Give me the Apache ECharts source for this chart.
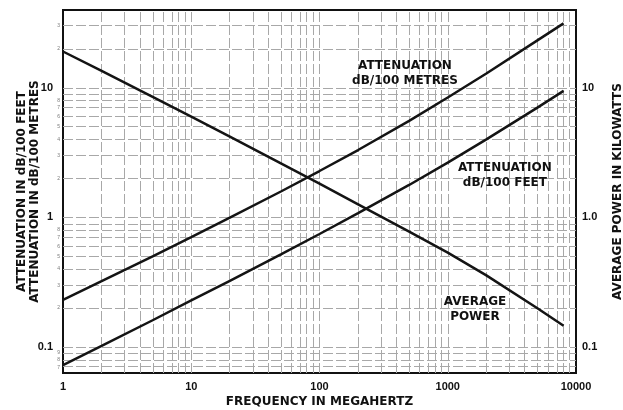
<!DOCTYPE html>
<html>
<head>
<meta charset="utf-8">
<script src="https://cdn.jsdelivr.net/npm/echarts@6/dist/echarts.min.js"></script>
<style>
html,body{margin:0;padding:0;background:#fff;}
#chart{width:623px;height:410px;}
</style>
</head>
<body>
<div id="chart"></div>
<script>
// ---- data (log-log plot) ----
const freqMHz        = [1, 2, 5, 10, 20, 50, 100, 200, 500, 1000, 2000, 5000, 8000];
const attenPer100m   = [0.231, 0.322, 0.501, 0.705, 0.995, 1.585, 2.28, 3.31, 5.56, 8.41, 12.9, 23.2, 31.4];
const attenPer100ft  = [0.0726, 0.102, 0.161, 0.229, 0.324, 0.519, 0.745, 1.08, 1.78, 2.65, 4.00, 7.03, 9.46];
const avgPowerKW     = [19.05, 13.5, 8.51, 5.98, 4.20, 2.61, 1.82, 1.26, 0.776, 0.535, 0.357, 0.1995, 0.146];

// axis tick labels
const xTickValues = [1, 10, 100, 1000, 10000];
const xTickLabels = ['1', '10', '100', '1000', '10000'];
const yLeftTickValues  = [0.1, 1, 10];
const yLeftTickLabels  = ['0.1', '1', '10'];
const yRightTickValues = [0.1, 1, 10];
const yRightTickLabels = ['0.1', '1.0', '10'];

// small minor labels on left axis
const minorLabelValues = [0.07, 0.08, 0.09, 0.2, 0.3, 0.4, 0.5, 0.6, 0.7, 0.8, 2, 3, 4, 5, 6, 7, 8, 20, 30];
const minorLabelTexts  = ['7', '8', '9', '2', '3', '4', '5', '6', '7', '8', '2', '3', '4', '5', '6', '7', '8', '2', '3'];

// graph-paper grid
const gridFreqMHz = [2,3,4,5,6,7,8,9,10,20,30,40,50,60,70,80,90,100,200,300,400,500,600,700,800,900,1000,2000,3000,4000,5000,6000,7000,8000,9000];
const gridValues  = [0.07,0.08,0.09,0.1,0.2,0.3,0.4,0.5,0.6,0.7,0.8,0.9,1,2,3,4,5,6,7,8,9,10,20,30];

// curve annotations
const annoTexts = ['ATTENUATION\ndB/100 METRES', 'ATTENUATION\ndB/100 FEET', 'AVERAGE\nPOWER'];
const annoFreq  = [464, 2790, 1630];
const annoValue = [13.0, 2.10, 0.196];

// axis ranges (decades)
const xMinLog = 0, xMaxLog = 4;
const yMinLog = -1.2, yMaxLog = 1.6;

const L = Math.log10;
const near = (a, b) => Math.abs(a - b) < 1e-6;
function labelFor(values, labels, v) {
  for (let i = 0; i < values.length; i++) if (near(L(values[i]), v)) return labels[i];
  return '';
}
const toPts = arr => freqMHz.map((f, i) => [L(f), L(arr[i])]);

const gridStyle = { color: '#a8a8a8', width: 1, type: [10, 3] };
const titleFont = { fontFamily: 'DejaVu Sans', fontWeight: 'bold', fontSize: 12, color: '#111111' };
const tickFont = { fontFamily: 'Liberation Sans', fontWeight: 'bold', fontSize: 11, color: '#111111' };
const curveStyle = { color: '#141414', width: 2.5 };

const chart = echarts.init(document.getElementById('chart'), null, { renderer: 'canvas' });
chart.setOption({
  animation: false,
  backgroundColor: '#ffffff',
  grid: { left: 63, right: 47, top: 10, bottom: 37, outerBoundsMode: 'none', containLabel: false,
          show: true, borderColor: '#111', borderWidth: 2, backgroundColor: 'transparent' },
  xAxis: {
    type: 'value', min: xMinLog, max: xMaxLog, interval: 1,
    axisLine: { show: false }, axisTick: { show: false }, splitLine: { show: false },
    axisLabel: Object.assign({ margin: 8, formatter: v => labelFor(xTickValues, xTickLabels, v) }, tickFont),
    name: 'FREQUENCY IN MEGAHERTZ', nameLocation: 'middle', nameGap: 23, nameMoveOverlap: false, nameTextStyle: titleFont
  },
  yAxis: [{
    type: 'value', min: yMinLog, max: yMaxLog, interval: 0.2, position: 'left',
    axisLine: { show: false }, axisTick: { show: false }, splitLine: { show: false },
    axisLabel: Object.assign({ margin: 10, formatter: v => labelFor(yLeftTickValues, yLeftTickLabels, v) }, tickFont),
    name: 'ATTENUATION IN dB/100 FEET\nATTENUATION IN dB/100 METRES', nameLocation: 'middle', nameGap: 22, nameMoveOverlap: false,
    nameTextStyle: Object.assign({ lineHeight: 12.5 }, titleFont)
  }, {
    type: 'value', min: yMinLog, max: yMaxLog, interval: 0.2, position: 'right',
    axisLine: { show: false }, axisTick: { show: false }, splitLine: { show: false },
    axisLabel: Object.assign({ margin: 6, formatter: v => labelFor(yRightTickValues, yRightTickLabels, v) }, tickFont),
    name: 'AVERAGE POWER IN KILOWATTS', nameLocation: 'middle', nameGap: 36, nameMoveOverlap: false, nameTextStyle: titleFont
  }],
  series: [
    {
      name: 'grid', type: 'line', data: [], silent: true, z: 1,
      markLine: {
        silent: true, symbol: ['none', 'none'], label: { show: false }, animation: false,
        lineStyle: gridStyle,
        data: gridFreqMHz.map(f => ({ xAxis: L(f) })).concat(gridValues.map(v => ({ yAxis: L(v) })))
      }
    },
    {
      name: 'minorLabels', type: 'scatter', symbolSize: 0, silent: true, z: 3, clip: false,
      data: minorLabelValues.map((v, i) => ({ value: [xMinLog, L(v)], label: { formatter: minorLabelTexts[i] } })),
      label: { show: true, position: 'left', distance: 3, fontSize: 5, fontFamily: 'Liberation Sans', color: '#555' }
    },
    { name: 'Attenuation dB/100 m', type: 'line', data: toPts(attenPer100m), showSymbol: false, symbol: 'none', lineStyle: curveStyle, z: 10 },
    { name: 'Attenuation dB/100 ft', type: 'line', data: toPts(attenPer100ft), showSymbol: false, symbol: 'none', lineStyle: curveStyle, z: 10 },
    { name: 'Average power kW', type: 'line', yAxisIndex: 1, data: toPts(avgPowerKW), showSymbol: false, symbol: 'none', lineStyle: curveStyle, z: 10 },
    {
      name: 'annotations', type: 'scatter', symbolSize: 0, silent: true, z: 12,
      itemStyle: { color: '#111', opacity: 1 },
      data: annoTexts.map((t, i) => ({ value: [L(annoFreq[i]), L(annoValue[i])], label: { formatter: t } })),
      label: Object.assign({ show: true, position: 'inside', align: 'center', verticalAlign: 'middle', lineHeight: 15, opacity: 1 }, titleFont)
    }
  ]
});
</script>
</body>
</html>
